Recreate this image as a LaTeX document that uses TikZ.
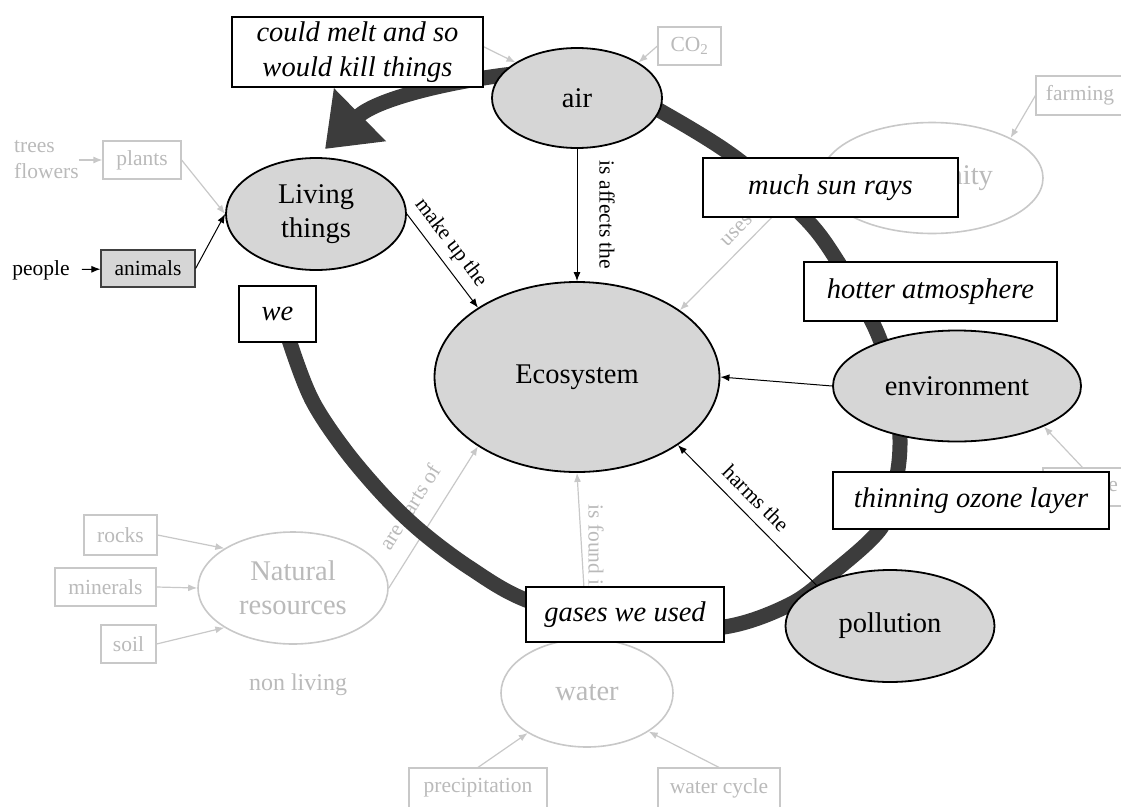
\documentclass[tikz,border=0pt]{standalone}
\usepackage{fontspec}
\setmainfont{Liberation Serif}
\usetikzlibrary{shapes.geometric,arrows.meta}
\pgfdeclarelayer{bg}
\pgfdeclarelayer{arcl}
\pgfsetlayers{bg,arcl,main}
\definecolor{nodegray}{RGB}{214,214,214}
\definecolor{lgray}{RGB}{200,200,200}
\definecolor{gtext}{RGB}{186,186,186}
\definecolor{arcgray}{RGB}{60,60,60}
\newcommand{\bigf}{\fontsize{28.5}{34}\selectfont}
\newcommand{\bigi}{\fontsize{28.5}{35}\selectfont\itshape}
\newcommand{\smf}{\fontsize{21.5}{26}\selectfont}
\begin{document}
\begin{tikzpicture}[x=1pt,y=-1pt,
  blk/.style={ellipse, draw=black, line width=1.8pt, fill=nodegray, inner sep=0pt, font=\bigf, align=center},
  ibox/.style={rectangle, draw=black, line width=2.2pt, fill=white, inner sep=0pt, font=\bigi, align=center},
  gbox/.style={rectangle, draw=lgray, line width=1.2pt, fill=white, inner sep=0pt, text=gtext, font=\smf},
  gell/.style={ellipse, draw=lgray, line width=1.6pt, fill=white, inner sep=0pt, text=gtext, font=\bigf, align=center},
  conn/.style={draw=black, line width=1pt, -{Latex[length=9pt,width=7pt]}},
  gconn/.style={draw=lgray, line width=1.2pt, -{Latex[length=9pt,width=7pt]}},
  lab/.style={font=\smf, text=black},
  glab/.style={font=\smf, text=gtext},
  bigarc/.style={line width=15pt, draw=arcgray}
]
\useasboundingbox (0,0) rectangle (1121,806);

% main concept nodes
\node[blk, minimum width=170pt, minimum height=100pt] (air) at (577,98) {air};
\node[blk, minimum width=180pt, minimum height=112pt] (lt) at (316,214) {Living\\things};
\node[blk, minimum width=285pt, minimum height=190pt] (eco) at (577,377) {Ecosystem};
\node[blk, minimum width=248pt, minimum height=111pt] (env) at (957,386) {environment};
\node[blk, minimum width=209pt, minimum height=112pt] (pol) at (890,626) {pollution};

% italic boxes
\node[ibox, minimum width=251pt, minimum height=70pt] (melt) at (357.5,52) {could melt and so\\would kill things};
\node[ibox, minimum width=255pt, minimum height=59pt] (sun) at (830.5,187.5) {much sun rays};
\node[ibox, minimum width=253pt, minimum height=59pt] (hot) at (930.5,291.5) {hotter atmosphere};
\node[ibox, minimum width=276pt, minimum height=57pt] (thin) at (971,500.5) {thinning ozone layer};
\node[ibox, minimum width=198pt, minimum height=55pt] (gas) at (625,614.5) {gases we used};
\node[ibox, minimum width=77pt, minimum height=56pt] (we) at (277.5,314) {we};

% animals / people
\node[rectangle, draw=black!75, line width=1.2pt, fill=nodegray, font=\smf, minimum width=94pt, minimum height=37pt, inner sep=0pt] (animals) at (148,268.5) {animals};
\node[font=\smf, inner sep=1pt] (people) at (41,270) {people};

% black connectors
\draw[conn, shorten <=11pt] (people) -- (animals);
\draw[conn] (animals.east) -- (lt.west);
\draw[conn] (lt.east) -- node[lab, sloped, above, pos=0.42, inner sep=7pt] {make up the} (eco.145);
\draw[conn] (air.south) -- node[lab, pos=0.5, rotate=-90, anchor=south, inner sep=22pt] {is affects the} (eco.north);
\draw[conn] (env.west) -- (eco.east);
\draw[conn] (pol.151) -- node[lab, sloped, above, pos=0.53, inner sep=10pt] {harms the} (eco.-34);

% thick arc
\coordinate (tip) at (325,149);
\begin{pgfonlayer}{arcl}
\draw[bigarc] plot[smooth, tension=0.55] coordinates {(285,320) (290,343) (312,400) (345,450) (385,497) (423,533) (470,568) (526,600) (625,630) (724,627) (789,605) (830,575) (881,528) (896,480) (900,440) (895,390) (876,330) (838,262) (804,217) (736,158) (664,113) (600,80) (545,71)};
\draw[bigarc, -{Triangle[length=49pt, width=71pt]}] (545,71) .. controls (470,76) and (378,97) .. (tip);
\end{pgfonlayer}

% faded background part of the map
\begin{pgfonlayer}{bg}
\node[gell, minimum width=222pt, minimum height=111pt] (comm) at (932,178) {\hspace*{-8pt}community};
\node[gell, minimum width=190pt, minimum height=112pt] (nr) at (293,588) {Natural\\resources};
\node[gell, minimum width=172pt, minimum height=108pt] (water) at (587,693) {water};
\node[gbox, minimum width=63pt, minimum height=38pt] (co2) at (689.5,46) {CO\textsubscript{2}};
\node[gbox, minimum width=88pt, minimum height=39pt] (farm) at (1080,95.5) {farming};
\node[gbox, minimum width=78pt, minimum height=38pt] (plants) at (142,160) {plants};
\node[font=\smf, text=gtext, align=left, inner sep=0pt, anchor=west] (tf) at (14,160) {trees\\flowers};
\node[gbox, minimum width=73pt, minimum height=40pt] (rocks) at (120.5,535) {rocks};
\node[gbox, minimum width=101pt, minimum height=38pt] (minerals) at (105.5,587) {minerals};
\node[gbox, minimum width=55pt, minimum height=38pt] (soil) at (128.5,644) {soil};
\node[gbox, minimum width=138pt, minimum height=40pt] (precip) at (478,788) {precipitation};
\node[gbox, minimum width=122pt, minimum height=40pt] (wcyc) at (719,788) {water cycle};
\node[font=\fontsize{24}{28}\selectfont, text=gtext] (nonliv) at (298,685) {non living};
\node[gbox, minimum width=92pt, minimum height=38pt] (hid) at (1089,487) {\makebox[58pt][r]{e}};

\coordinate (meltsrc) at (470,40);
\coordinate (usesfrom) at (799,190);
\coordinate (hidsrc) at (1083,468);

\draw[gconn] (tf.east) -- (plants.west);
\draw[gconn] (plants.east) -- (lt.west);
\draw[gconn] (rocks.east) -- (nr.150);
\draw[gconn] (minerals.east) -- (nr.west);
\draw[gconn] (soil.east) -- (nr.210);
\draw[gconn] (nr.east) -- node[glab, sloped, above, pos=0.475, inner sep=13pt] {are parts of} (eco.215);
\draw[gconn] (water.north) -- node[glab, pos=0.53, rotate=-90, anchor=south, inner sep=6pt] {is found in} (eco.south);
\draw[gconn] (precip.north) -- (water.214);
\draw[gconn] (wcyc.north) -- (water.-32);
\draw[gconn] (co2.west) -- (air.30);
\draw[gconn] (farm.west) -- (comm.27);
\draw[gconn] (meltsrc) -- (air.150);
\draw[gconn] (usesfrom) -- node[glab, sloped, above, pos=0.43, inner sep=10pt] {uses} (eco.33);
\draw[gconn] (hidsrc) -- (env.-25);
\end{pgfonlayer}
\end{tikzpicture}
\end{document}
